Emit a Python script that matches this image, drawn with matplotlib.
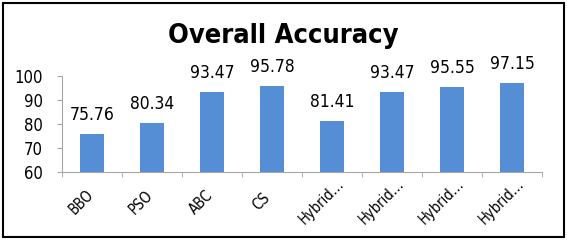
import matplotlib
matplotlib.use("Agg")
import matplotlib.pyplot as plt
from matplotlib.patches import Rectangle
from matplotlib.transforms import ScaledTranslation
import numpy as np

categories = ["BBO", "PSO", "ABC", "CS", "Hybrid…", "Hybrid…", "Hybrid…", "Hybrid…"]
values = [75.76, 80.34, 93.47, 95.78, 81.41, 93.47, 95.55, 97.15]
yticks = [60, 70, 80, 90, 100]

fam = "DejaVu Sans"
fig = plt.figure(figsize=(5.7, 2.4), dpi=100)
ax = fig.add_axes([62 / 570, 1 - 172 / 240, 480 / 570, 96 / 240])
x = np.arange(len(categories))
ax.bar(x, values, width=0.4, color="#558ED5", zorder=2)
for xi, v in zip(x, values):
    ax.annotate(f"{v:.2f}", (xi, v), xytext=(0, 10), textcoords="offset points",
                ha="center", va="baseline", fontsize=12.5, color="#000000",
                family=fam, stretch="condensed")
ax.set_ylim(60, 100)
ax.set_xlim(-0.5, len(categories) - 0.5)
ax.set_yticks(yticks)
ax.set_yticklabels([str(t) for t in yticks], fontsize=12, family=fam, stretch="condensed")
ax.set_xticks(x)
ax.set_xticklabels(categories, rotation=45, ha="center", va="center", rotation_mode="anchor",
                   fontsize=10.5, family=fam, stretch="condensed")
ax.tick_params(axis="x", which="major", length=0, pad=21.6)
shift = ScaledTranslation(-0.105, 0, fig.dpi_scale_trans)
for lab in ax.get_xticklabels():
    lab.set_transform(lab.get_transform() + shift)
ax.set_xticks(np.arange(-0.5, len(categories), 1.0), minor=True)
ax.tick_params(axis="x", which="minor", length=3.6, color="#A6A6A6")
ax.tick_params(axis="y", length=3.6, color="#A6A6A6", pad=10)
for s in ["top", "right"]:
    ax.spines[s].set_visible(False)
for s in ["left", "bottom"]:
    ax.spines[s].set_color("#A6A6A6")
fig.text(283 / 570, 1 - 43 / 240, "Overall Accuracy", ha="center", va="baseline", fontsize=19.5,
         fontweight="bold", family=fam, stretch="condensed")
fig.patches.append(Rectangle((0.006, 0.012), 0.984, 0.976, transform=fig.transFigure,
                             fill=False, edgecolor="black", linewidth=1.5))
fig.savefig("out.png", dpi=100)
